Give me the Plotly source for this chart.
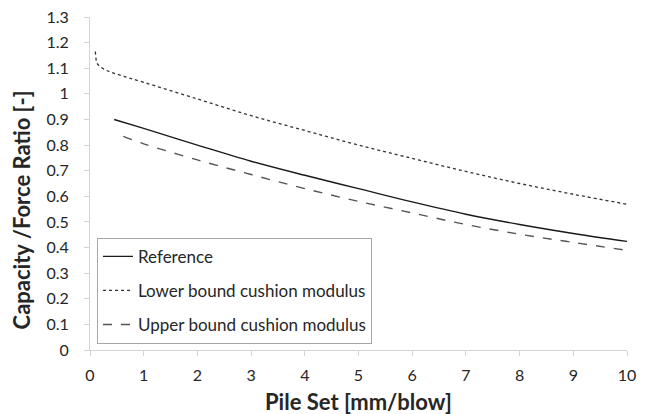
import plotly.graph_objects as go

# Pile set [mm/blow] and capacity/force ratio [-] for each cushion case
ref_set = [0.45, 1, 2, 3, 4, 5, 6, 7, 8, 9, 10]
ref_ratio = [0.900, 0.865, 0.800, 0.737, 0.682, 0.630, 0.578, 0.530, 0.490, 0.455, 0.424]

lower_set = [0.10, 0.11, 0.13, 0.18, 0.30, 0.50, 1, 2, 3, 4, 5, 6, 7, 8, 9, 10]
lower_ratio = [1.165, 1.14, 1.12, 1.108, 1.092, 1.077, 1.045, 0.980, 0.915, 0.857, 0.800,
               0.748, 0.697, 0.650, 0.608, 0.569]

upper_set = [0.62, 1, 2, 3, 4, 5, 6, 7, 8, 9, 10]
upper_ratio = [0.834, 0.805, 0.742, 0.685, 0.630, 0.580, 0.535, 0.490, 0.452, 0.420, 0.389]

x_ticks = list(range(0, 11))
y_ticks = [round(0.1 * i, 1) for i in range(14)]
y_labels = ["0" if v == 0 else ("1" if v == 1 else f"{v:g}") for v in y_ticks]

FONT = "Lato"
TXT = "#262626"
AXIS = "#d4d4d4"

fig = go.Figure()
fig.add_trace(go.Scatter(
    x=ref_set, y=ref_ratio, mode="lines", name="Reference", legendgroup="a",
    line=dict(color="#1a1a1a", width=1.4, shape="spline"),
))
fig.add_trace(go.Scatter(
    x=lower_set, y=lower_ratio, mode="lines", name="Lower bound cushion modulus",
    legendgroup="b",
    line=dict(color="#333333", width=1.3, dash="dot", shape="spline"),
))
fig.add_trace(go.Scatter(
    x=upper_set, y=upper_ratio, mode="lines", name="Upper bound cushion modulus",
    legendgroup="c",
    line=dict(color="#555555", width=1.4, dash="dash", shape="spline"),
))

fig.update_layout(
    width=649, height=414,
    margin=dict(l=90, r=22, t=17, b=64, autoexpand=False),
    paper_bgcolor="white", plot_bgcolor="white",
    font=dict(family=FONT, size=16, color=TXT),
    showlegend=True,
    legend=dict(
        x=0.013, y=0.337, xanchor="left", yanchor="top",
        bgcolor="white", bordercolor="#a6a6a6", borderwidth=1,
        font=dict(family=FONT, size=17, color=TXT),
        tracegroupgap=9, itemwidth=30,
    ),
    xaxis=dict(
        range=[0, 10], tickvals=x_ticks, ticktext=[str(t) for t in x_ticks],
        showgrid=False, zeroline=False, showline=True, linecolor=AXIS,
        ticks="outside", ticklen=5, tickcolor=AXIS, ticklabelstandoff=6,
        tickfont=dict(family=FONT, size=16, color=TXT), automargin=False,
    ),
    yaxis=dict(
        range=[0, 1.3], tickvals=y_ticks, ticktext=y_labels,
        showgrid=False, zeroline=False, showline=True, linecolor=AXIS,
        ticks="outside", ticklen=5, tickcolor=AXIS, ticklabelstandoff=12,
        tickfont=dict(family=FONT, size=16, color=TXT), automargin=False,
    ),
    annotations=[
        dict(
            text="<b>Capacity /Force Ratio [-]</b>", textangle=-90,
            xref="paper", yref="paper", x=-0.128, y=0.42,
            xanchor="center", yanchor="middle", showarrow=False,
            font=dict(family=FONT, size=22, color=TXT),
        ),
        dict(
            text="<b>Pile Set [mm/blow]</b>",
            xref="paper", yref="paper", x=0.5, y=-0.156,
            xanchor="center", yanchor="middle", showarrow=False,
            font=dict(family=FONT, size=22, color=TXT),
        ),
    ],
)

fig.write_html("out.html")
